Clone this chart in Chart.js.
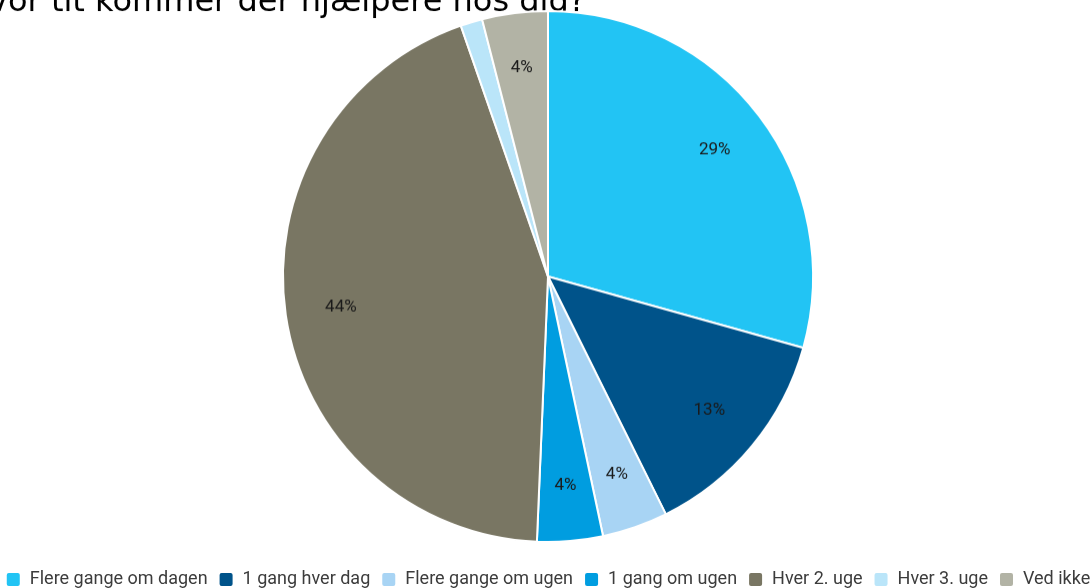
<!DOCTYPE html>
<html>
<head>
<meta charset="utf-8">
<script src="https://cdn.jsdelivr.net/npm/chart.js@4"></script>
<style>
  html, body { margin: 0; padding: 0; width: 1091px; height: 588px; overflow: hidden; background: #fff; }
  #wrap { position: absolute; left: -35px; top: -5px; width: 1166px; height: 602.5px; }
</style>
</head>
<body>
<div id="wrap"><canvas id="pie"></canvas></div>
<script>
const TITLE = "Hvor tit kommer der hjælpere hos dig?";
const LABELS = ["Flere gange om dagen", "1 gang hver dag", "Flere gange om ugen", "1 gang om ugen", "Hver 2. uge", "Hver 3. uge", "Ved ikke"];
const COUNTS = [22, 10, 3, 3, 33, 1, 3];
const COLORS = ["#22c4f4", "#00538a", "#a8d4f4", "#009de0", "#797663", "#bae5f9", "#b2b3a5"];

// percent labels drawn inside slices (hidden for tiny slices)
const pctLabels = {
  id: "pctLabels",
  afterDatasetsDraw(chart) {
    const ctx = chart.ctx;
    const meta = chart.getDatasetMeta(0);
    const total = COUNTS.reduce((a, b) => a + b, 0);
    ctx.save();
    ctx.font = "17px Roboto";
    ctx.fillStyle = "#1a1a1a";
    ctx.textAlign = "center";
    ctx.textBaseline = "middle";
    meta.data.forEach((arc, i) => {
      const pct = Math.round(COUNTS[i] / total * 100);
      if (pct < 2) return;
      const mid = (arc.startAngle + arc.endAngle) / 2;
      const r = arc.outerRadius * 0.79;
      ctx.fillText(pct + "%", arc.x + Math.cos(mid) * r, arc.y + Math.sin(mid) * r);
    });
    ctx.restore();
  },
};

new Chart(document.getElementById("pie").getContext("2d"), {
  type: "pie",
  data: {
    labels: LABELS,
    datasets: [{
      data: COUNTS,
      backgroundColor: COLORS,
      borderColor: "#ffffff",
      borderWidth: 2,
    }],
  },
  plugins: [pctLabels],
  options: {
    responsive: true,
    maintainAspectRatio: false,
    animation: false,
    layout: { padding: 0 },
    plugins: {
      title: {
        display: true,
        text: TITLE,
        align: "start",
        color: "#000",
        font: { family: "DejaVu Sans", size: 32, weight: "normal", lineHeight: 0.466 },
        padding: { top: 0, bottom: 0 },
      },
      legend: {
        position: "bottom",
        title: { display: true, text: " ", font: { size: 1, lineHeight: 1 }, padding: { top: 15.5, bottom: 0 } },
        labels: {
          color: "#3c3c3c",
          font: { family: "Roboto", size: 18 },
          boxWidth: 15,
          boxHeight: 15,
          useBorderRadius: true,
          borderRadius: 3,
          padding: 11,
        },
      },
      tooltip: { enabled: false },
    },
  },
});
</script>
</body>
</html>
